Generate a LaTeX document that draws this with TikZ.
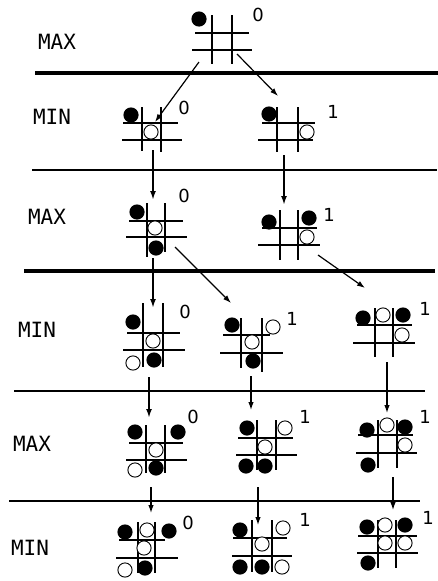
\documentclass[tikz,border=0pt]{standalone}
\usepackage{fontspec}
\newfontfamily\lvlfont{DejaVu Sans Mono}
\newfontfamily\valfont{DejaVu Sans}
\usetikzlibrary{arrows.meta}
\tikzset{
  gl/.style={line width=1.9pt},
  blk/.style={fill=black},
  wht/.style={draw=black, fill=white, line width=0.9pt},
  septhick/.style={line width=3.2pt},
  septhin/.style={line width=1.9pt},
  arr/.style={line width=1.2pt, -{Latex[length=8pt,width=5.5pt]}},
  arrthick/.style={line width=2.4pt, -{Latex[length=9pt,width=6pt]}},
  lvl/.style={font=\lvlfont\fontsize{21}{21}\selectfont, inner sep=0pt},
  val/.style={font=\valfont\fontsize{18}{18}\selectfont, inner sep=0pt},
}
\newcommand{\bk}[2]{\fill[blk] (#1,#2) circle (7.6);}
\newcommand{\wh}[2]{\draw[wht] (#1,#2) circle (7.1);}
\begin{document}
\begin{tikzpicture}[x=1pt,y=-1pt]
\useasboundingbox (0,0) rectangle (438,581);

% separators
\draw[septhick] (35,73) -- (438,73);
\draw[septhin] (32,170) -- (437,170);
\draw[septhick] (24,271) -- (435,271);
\draw[septhin] (14,391) -- (425,391);
\draw[septhin] (9,501) -- (420,501);

% level labels
\node[lvl] (l0) at (57,42) {MAX};
\node[lvl] (l1) at (52,117) {MIN};
\node[lvl] (l2) at (47,217) {MAX};
\node[lvl] (l3) at (37,330) {MIN};
\node[lvl] (l4) at (32,444) {MAX};
\node[lvl] (l5) at (30,548) {MIN};

% ---- root
\draw[gl] (212,15)--(212,64) (232,15)--(232,64) (195,33)--(249,33) (192,50)--(252,50);
\bk{199}{19}
\node[val] (v0) at (258,15) {0};

% ---- 1a
\draw[gl] (142,107)--(142,151) (161,107)--(161,152) (123,123)--(178,123) (122,140)--(182,140);
\bk{131}{115} \wh{151}{132}
\node[val] (v1a) at (184,108) {0};

% ---- 1b
\draw[gl] (277,107)--(277,152) (298,107)--(298,152) (262,123)--(315,123) (258,140)--(313,140);
\bk{269}{114} \wh{307}{132}
\node[val] (v1b) at (333,112) {1};

% ---- 2a
\draw[gl] (147,203)--(147,257) (165,203)--(165,252) (129,221)--(183,221) (126,237)--(187,237);
\bk{137}{212} \wh{155}{228} \bk{156}{248}
\node[val] (v2a) at (184,196) {0};

% ---- 2b
\draw[gl] (280,210)--(280,260) (298,210)--(298,260) (262,228)--(317,228) (258,245)--(320,245);
\bk{269}{222} \bk{309}{218} \wh{307}{237}
\node[val] (v2b) at (329,215) {1};

% ---- 3a
\draw[gl] (143,303)--(143,367) (163,303)--(163,367) (127,333)--(180,333) (123,350)--(185,350);
\bk{133}{322} \wh{153}{341} \wh{133}{363} \bk{154}{360}
\node[val] (v3a) at (185,312) {0};

% ---- 3b
\draw[gl] (241,318)--(241,368) (262,318)--(262,372) (223,335)--(270,335) (220,353)--(283,353);
\bk{232}{325} \wh{273}{327} \wh{252}{342} \bk{253}{361}
\node[val] (v3b) at (292,319) {1};

% ---- 3c
\draw[gl] (375,308)--(375,357) (393,308)--(393,357) (357,325)--(412,325) (353,343)--(415,343);
\bk{363}{318} \wh{383}{315} \bk{403}{315} \wh{402}{335}
\node[val] (v3c) at (425,309) {1};

% ---- 4a
\draw[gl] (146,425)--(146,473) (165,425)--(165,473) (129,443)--(183,443) (126,460)--(187,460);
\bk{135}{432} \bk{178}{432} \wh{156}{450} \wh{135}{470} \bk{156}{468}
\node[val] (v4a) at (193,417) {0};

% ---- 4b
\draw[gl] (257,420)--(257,470) (276,420)--(276,470) (238,438)--(293,438) (236,455)--(297,455);
\bk{247}{428} \wh{285}{428} \wh{265}{447} \bk{246}{466} \bk{265}{466}
\node[val] (v4b) at (305,417) {1};

% ---- 4c
\draw[gl] (378,420)--(378,468) (397,420)--(397,468) (358,435)--(413,435) (356,453)--(417,453);
\bk{367}{430} \wh{387}{425} \bk{405}{427} \wh{405}{445} \bk{368}{465}
\node[val] (v4c) at (425,417) {1};

% ---- 5a
\draw[gl] (138,522)--(138,573) (155,522)--(155,573) (119,540)--(165,540) (116,558)--(178,558);
\bk{125}{532} \wh{147}{530} \bk{169}{531} \wh{144}{548} \wh{125}{570} \bk{145}{568}
\node[val] (v5a) at (188,523) {0};

% ---- 5b
\draw[gl] (252,520)--(252,572) (272,520)--(272,572) (233,538)--(287,538) (232,556)--(292,556);
\bk{240}{530} \wh{283}{528} \wh{262}{544} \bk{240}{567} \bk{262}{567} \wh{282}{567}
\node[val] (v5b) at (305,520) {1};

% ---- 5c
\draw[gl] (378,520)--(378,568) (396,520)--(396,568) (358,536)--(417,536) (357,553)--(418,553);
\bk{367}{527} \wh{385}{525} \bk{405}{525} \wh{385}{543} \wh{405}{543} \bk{368}{563}
\node[val] (v5c) at (428,518) {1};

% ---- connector end points
\coordinate (r-s1) at (199,62);  \coordinate (a1-e) at (155,122);
\coordinate (r-s2) at (237,54);  \coordinate (b1-e) at (278,96);
\coordinate (a1-s) at (153,150); \coordinate (a2-e) at (153,200);
\coordinate (b1-s) at (284,155); \coordinate (b2-e) at (284,205);
\coordinate (a2-s) at (153,258); \coordinate (a3-e) at (153,308);
\coordinate (a2-s2) at (175,247); \coordinate (b3-e) at (231,303);
\coordinate (b2-s) at (318,255); \coordinate (c3-e) at (365,288);
\coordinate (a3-s) at (149,377); \coordinate (a4-e) at (149,418);
\coordinate (b3-s) at (251,376); \coordinate (b4-e) at (251,410);
\coordinate (c3-s) at (387,362); \coordinate (c4-e) at (387,413);
\coordinate (a4-s) at (151,487); \coordinate (a5-e) at (151,513);
\coordinate (b4-s) at (258,487); \coordinate (b5-e) at (258,525);
\coordinate (c4-s) at (393,477); \coordinate (c5-e) at (393,510);

% ---- connectors
\draw[arr] (r-s1) -- (a1-e);
\draw[arr] (r-s2) -- (b1-e);
\draw[arrthick] (a1-s) -- (a2-e);
\draw[arrthick] (b1-s) -- (b2-e);
\draw[arrthick] (a2-s) -- (a3-e);
\draw[arr] (a2-s2) -- (b3-e);
\draw[arr] (b2-s) -- (c3-e);
\draw[arrthick] (a3-s) -- (a4-e);
\draw[arr] (b3-s) -- (b4-e);
\draw[arr] (c3-s) -- (c4-e);
\draw[arr] (a4-s) -- (a5-e);
\draw[arr] (b4-s) -- (b5-e);
\draw[arr] (c4-s) -- (c5-e);
\end{tikzpicture}
\end{document}
